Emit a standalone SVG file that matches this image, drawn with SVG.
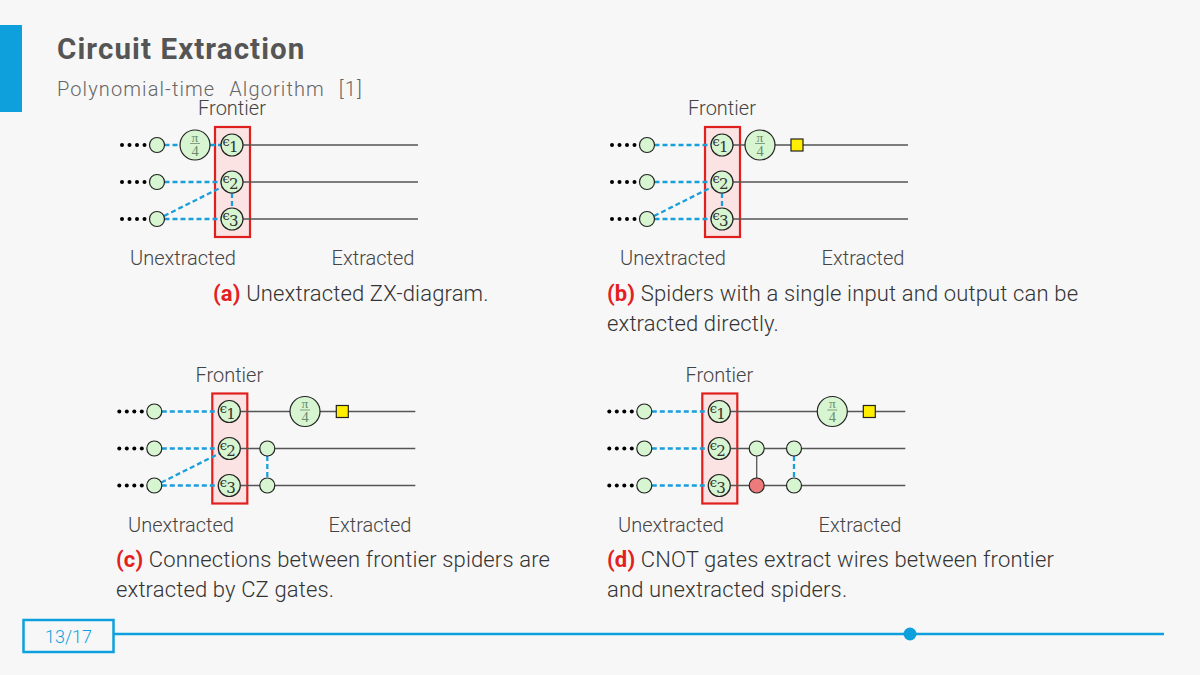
<svg xmlns="http://www.w3.org/2000/svg" width="1200" height="675" viewBox="0 0 1200 675">
<style>
.t{font-family:Roboto,"Liberation Sans",sans-serif;}
.title{font-size:29.5px;font-weight:700;fill:#555;letter-spacing:1.1px;}
.sub{font-size:20px;font-weight:300;fill:#666;letter-spacing:1.1px;word-spacing:8px;}
.lbl{font-size:20px;font-weight:300;fill:#444;text-anchor:middle;}
.cap{font-size:22px;font-weight:300;fill:#333;letter-spacing:0.15px;}
.tag{font-weight:700;fill:#e3201e;}
.wire{stroke:#555;stroke-width:1.3;fill:none;}
.dash{stroke:#1a9fdc;stroke-width:2.3;stroke-dasharray:5 3;fill:none;}
.sp{fill:#d6f5d0;stroke:#222;stroke-width:1.2;}
.red{fill:#ee7b7b;stroke:#222;stroke-width:1.2;}
.had{fill:#ffee00;stroke:#222;stroke-width:1.2;}
.box{fill:#fbe3e3;stroke:#e0201e;stroke-width:2.2;}
.eps{font-family:"DejaVu Serif","Liberation Serif",serif;fill:#333;}
.frac{font-family:"Liberation Serif","DejaVu Serif",serif;fill:#6a8a6a;text-anchor:middle;}
</style>
<defs>
<g id="dots" fill="#000"><circle cx="-35" cy="0" r="2"/><circle cx="-27.5" cy="0" r="2"/><circle cx="-20" cy="0" r="2"/><circle cx="-12.5" cy="0" r="2"/></g>
<g id="pi4"><circle r="15" class="sp"/><text class="frac" x="0" y="-3.5" font-size="13.5">π</text><line x1="-5" y1="-1.5" x2="5" y2="-1.5" stroke="#6a8a6a" stroke-width="0.8"/><text class="frac" x="0" y="10.5" font-size="14.5">4</text></g>
</defs>
<rect width="1200" height="675" fill="#f7f7f7"/>
<g id="header">
<rect x="0" y="25" width="22" height="87" fill="#0ea0dc"/>
<text class="t title" x="57" y="59">Circuit Extraction</text>
<text class="t sub" x="57" y="96">Polynomial-time Algorithm [1]</text>
</g>

<!-- Panel A -->
<g id="panel-a" transform="translate(157,145)">
<rect class="box" x="58" y="-18" width="35" height="110"/>
<g id="a-connectors">
<line class="wire" x1="86" y1="0" x2="261" y2="0"/>
<line class="wire" x1="86" y1="37" x2="261" y2="37"/>
<line class="wire" x1="86" y1="74" x2="261" y2="74"/>
<line class="dash" x1="7.5" y1="0" x2="23" y2="0"/>
<line class="dash" x1="53" y1="0" x2="64" y2="0"/>
<line class="dash" x1="7.5" y1="37" x2="64" y2="37"/>
<line class="dash" x1="7.5" y1="74" x2="64" y2="74"/>
<line class="dash" x1="7" y1="71" x2="65" y2="42"/>
<line class="dash" x1="75" y1="48" x2="75" y2="63"/>
</g>
<use href="#dots"/><use href="#dots" y="37"/><use href="#dots" y="74"/>
<circle class="sp" cx="0" cy="0" r="7.5"/><circle class="sp" cx="0" cy="37" r="7.5"/><circle class="sp" cx="0" cy="74" r="7.5"/>
<use href="#pi4" x="38" y="0"/>
<g id="a-e1"><circle class="sp" cx="75" cy="0" r="11"/><text class="eps" x="65.5" y="1" font-size="13">ϵ</text><text class="eps" x="72" y="7" font-size="15">1</text></g>
<g id="a-e2"><circle class="sp" cx="75" cy="37" r="11"/><text class="eps" x="65.5" y="38" font-size="13">ϵ</text><text class="eps" x="72" y="44" font-size="15">2</text></g>
<g id="a-e3"><circle class="sp" cx="75" cy="74" r="11"/><text class="eps" x="65.5" y="75" font-size="13">ϵ</text><text class="eps" x="72" y="81" font-size="15">3</text></g>
<text class="t lbl" x="75" y="-30">Frontier</text>
<text class="t lbl" x="26" y="120">Unextracted</text>
<text class="t lbl" x="216" y="120">Extracted</text>
</g>
<text class="t cap" x="213" y="301"><tspan class="tag">(a)</tspan> Unextracted ZX-diagram.</text>

<!-- Panel B -->
<g id="panel-b" transform="translate(647,145)">
<rect class="box" x="58" y="-18" width="35" height="110"/>
<g id="b-connectors">
<line class="wire" x1="86" y1="0" x2="261" y2="0"/>
<line class="wire" x1="86" y1="37" x2="261" y2="37"/>
<line class="wire" x1="86" y1="74" x2="261" y2="74"/>
<line class="dash" x1="7.5" y1="0" x2="64" y2="0"/>
<line class="dash" x1="7.5" y1="37" x2="64" y2="37"/>
<line class="dash" x1="7.5" y1="74" x2="64" y2="74"/>
<line class="dash" x1="7" y1="71" x2="65" y2="42"/>
<line class="dash" x1="75" y1="48" x2="75" y2="63"/>
</g>
<use href="#dots"/><use href="#dots" y="37"/><use href="#dots" y="74"/>
<circle class="sp" cx="0" cy="0" r="7.5"/><circle class="sp" cx="0" cy="37" r="7.5"/><circle class="sp" cx="0" cy="74" r="7.5"/>
<use href="#pi4" x="113" y="0"/>
<rect class="had" x="144" y="-6" width="12" height="12"/>
<g id="b-e1"><circle class="sp" cx="75" cy="0" r="11"/><text class="eps" x="65.5" y="1" font-size="13">ϵ</text><text class="eps" x="72" y="7" font-size="15">1</text></g>
<g id="b-e2"><circle class="sp" cx="75" cy="37" r="11"/><text class="eps" x="65.5" y="38" font-size="13">ϵ</text><text class="eps" x="72" y="44" font-size="15">2</text></g>
<g id="b-e3"><circle class="sp" cx="75" cy="74" r="11"/><text class="eps" x="65.5" y="75" font-size="13">ϵ</text><text class="eps" x="72" y="81" font-size="15">3</text></g>
<text class="t lbl" x="75" y="-30">Frontier</text>
<text class="t lbl" x="26" y="120">Unextracted</text>
<text class="t lbl" x="216" y="120">Extracted</text>
</g>
<text class="t cap" x="607" y="301"><tspan class="tag">(b)</tspan> Spiders with a single input and output can be</text>
<text class="t cap" x="607" y="331">extracted directly.</text>

<!-- Panel C -->
<g id="panel-c" transform="translate(154.3,411.5)">
<rect class="box" x="58" y="-18" width="35" height="110"/>
<g id="c-connectors">
<line class="wire" x1="86" y1="0" x2="261" y2="0"/>
<line class="wire" x1="86" y1="37" x2="261" y2="37"/>
<line class="wire" x1="86" y1="74" x2="261" y2="74"/>
<line class="dash" x1="7.5" y1="0" x2="64" y2="0"/>
<line class="dash" x1="7.5" y1="37" x2="64" y2="37"/>
<line class="dash" x1="7.5" y1="74" x2="64" y2="74"/>
<line class="dash" x1="7" y1="71" x2="65" y2="42"/>
<line class="dash" x1="113" y1="44.5" x2="113" y2="66.5"/>
</g>
<use href="#dots"/><use href="#dots" y="37"/><use href="#dots" y="74"/>
<circle class="sp" cx="0" cy="0" r="7.5"/><circle class="sp" cx="0" cy="37" r="7.5"/><circle class="sp" cx="0" cy="74" r="7.5"/>
<use href="#pi4" x="150.7" y="0"/>
<rect class="had" x="182" y="-6" width="12" height="12"/>
<circle class="sp" cx="113" cy="37" r="7.5"/><circle class="sp" cx="113" cy="74" r="7.5"/>
<g id="c-e1"><circle class="sp" cx="75" cy="0" r="11"/><text class="eps" x="65.5" y="1" font-size="13">ϵ</text><text class="eps" x="72" y="7" font-size="15">1</text></g>
<g id="c-e2"><circle class="sp" cx="75" cy="37" r="11"/><text class="eps" x="65.5" y="38" font-size="13">ϵ</text><text class="eps" x="72" y="44" font-size="15">2</text></g>
<g id="c-e3"><circle class="sp" cx="75" cy="74" r="11"/><text class="eps" x="65.5" y="75" font-size="13">ϵ</text><text class="eps" x="72" y="81" font-size="15">3</text></g>
<text class="t lbl" x="75" y="-30">Frontier</text>
<text class="t lbl" x="26.7" y="120.5">Unextracted</text>
<text class="t lbl" x="215.7" y="120.5">Extracted</text>
</g>
<text class="t cap" x="116" y="567"><tspan class="tag">(c)</tspan> Connections between frontier spiders are</text>
<text class="t cap" x="116" y="597">extracted by CZ gates.</text>

<!-- Panel D -->
<g id="panel-d" transform="translate(644.3,411.5)">
<rect class="box" x="58" y="-18" width="35" height="110"/>
<g id="d-connectors">
<line class="wire" x1="86" y1="0" x2="261" y2="0"/>
<line class="wire" x1="86" y1="37" x2="261" y2="37"/>
<line class="wire" x1="86" y1="74" x2="261" y2="74"/>
<line class="dash" x1="7.5" y1="0" x2="64" y2="0"/>
<line class="dash" x1="7.5" y1="37" x2="64" y2="37"/>
<line class="dash" x1="7.5" y1="74" x2="64" y2="74"/>
<line class="wire" x1="112.4" y1="37" x2="112.4" y2="74"/>
<line class="dash" x1="149.7" y1="44.5" x2="149.7" y2="66.5"/>
</g>
<use href="#dots"/><use href="#dots" y="37"/><use href="#dots" y="74"/>
<circle class="sp" cx="0" cy="0" r="7.5"/><circle class="sp" cx="0" cy="37" r="7.5"/><circle class="sp" cx="0" cy="74" r="7.5"/>
<use href="#pi4" x="188" y="0"/>
<rect class="had" x="219" y="-6" width="12" height="12"/>
<circle class="sp" cx="112.4" cy="37" r="7.5"/><circle class="red" cx="112.4" cy="74" r="7.5"/>
<circle class="sp" cx="149.7" cy="37" r="7.5"/><circle class="sp" cx="149.7" cy="74" r="7.5"/>
<g id="d-e1"><circle class="sp" cx="75" cy="0" r="11"/><text class="eps" x="65.5" y="1" font-size="13">ϵ</text><text class="eps" x="72" y="7" font-size="15">1</text></g>
<g id="d-e2"><circle class="sp" cx="75" cy="37" r="11"/><text class="eps" x="65.5" y="38" font-size="13">ϵ</text><text class="eps" x="72" y="44" font-size="15">2</text></g>
<g id="d-e3"><circle class="sp" cx="75" cy="74" r="11"/><text class="eps" x="65.5" y="75" font-size="13">ϵ</text><text class="eps" x="72" y="81" font-size="15">3</text></g>
<text class="t lbl" x="75" y="-30">Frontier</text>
<text class="t lbl" x="26.7" y="120.5">Unextracted</text>
<text class="t lbl" x="215.7" y="120.5">Extracted</text>
</g>
<text class="t cap" x="607" y="567"><tspan class="tag">(d)</tspan> CNOT gates extract wires between frontier</text>
<text class="t cap" x="607" y="597">and unextracted spiders.</text>

<g id="footer">
<rect x="23.5" y="620" width="90" height="32" fill="none" stroke="#0ea0dc" stroke-width="2.5"/>
<text class="t" x="68.5" y="643" font-size="18" font-weight="300" fill="#0ea0dc" text-anchor="middle">13/17</text>
<line x1="114" y1="634" x2="1164" y2="634" stroke="#0ea0dc" stroke-width="2.5"/>
<circle cx="910" cy="634" r="6.5" fill="#0ea0dc"/>
</g>
</svg>
